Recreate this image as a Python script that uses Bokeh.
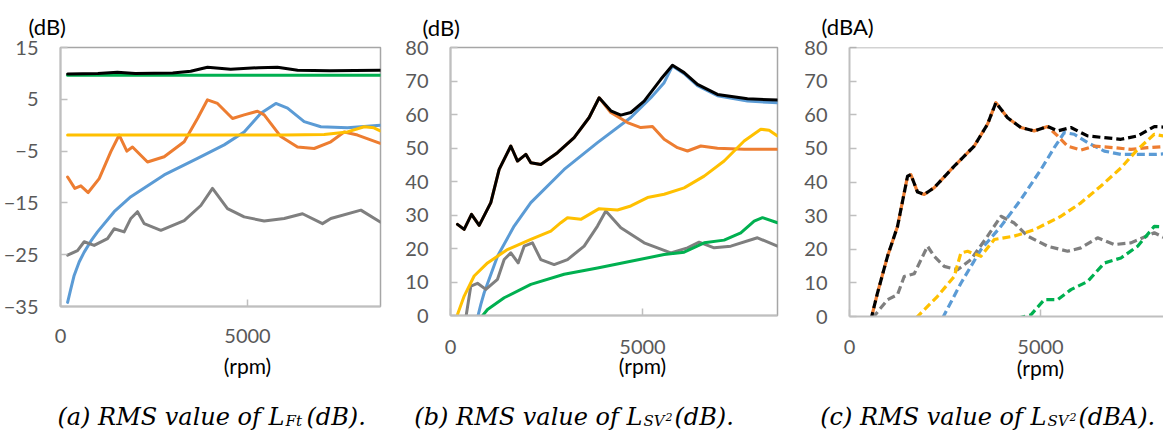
from bokeh.plotting import figure
from bokeh.layouts import row, column
from bokeh.models import Range1d, FixedTicker, Label, Span, Title, LinearAxis
from bokeh.embed import file_html
from bokeh.resources import INLINE

# ---------------- data ----------------
BLACK = "#000000"
GREEN = "#00B050"
ORANGE = "#ED7D31"
BLUE = "#5B9BD5"
YELLOW = "#FFC000"
GRAY = "#7F7F7F"

x_ticks = [0, 5000]
x_tick_labels = ["0", "5000"]
x_unit_label = "(rpm)"
a_y_ticks = [-35, -25, -15, -5, 5, 15]
bc_y_ticks = [0, 10, 20, 30, 40, 50, 60, 70, 80]
a_unit, b_unit, c_unit = "(dB)", "(dB)", "(dBA)"

# (a) RMS value of L_Ft (dB)
a_black_x = [190, 1000, 1520, 2000, 3000, 3480, 3930, 4550, 5300, 5800, 6340, 7200, 8550]
a_black_y = [9.9, 10.0, 10.2, 10.0, 10.1, 10.4, 11.2, 10.8, 11.1, 11.2, 10.6, 10.5, 10.6]
a_green_x = [190, 2000, 4000, 6000, 8550]
a_green_y = [9.65, 9.65, 9.65, 9.65, 9.65]
a_orange_x = [190, 383, 544, 740, 1034, 1346, 1569, 1774, 1925, 2326, 2772, 3307, 3663, 3930,
              4198, 4599, 4911, 5268, 5446, 5891, 6337, 6783, 7228, 7585, 7941, 8550]
a_orange_y = [-10.0, -12.2, -11.7, -13.0, -10.3, -5.1, -1.9, -5.0, -4.2, -7.1, -6.1, -3.2, 1.3, 4.9,
              4.2, 1.3, 2.0, 2.7, 2.0, -2.2, -4.2, -4.5, -3.2, -1.3, -1.9, -3.5]
a_blue_x = [190, 276, 365, 499, 633, 811, 989, 1435, 1881, 2772, 3663, 4376, 4911, 5357, 5758,
            6070, 6515, 6961, 7674, 8550]
a_blue_y = [-34.2, -31.6, -29.0, -26.4, -24.5, -22.4, -20.6, -16.7, -13.8, -9.6, -6.4, -3.8, -1.3,
            2.3, 4.2, 3.3, 0.7, -0.3, -0.5, 0.0]
a_yellow_x = [190, 2000, 4000, 6000, 7050, 7674, 8120, 8380, 8550]
a_yellow_y = [-1.9, -1.9, -1.9, -1.9, -1.8, -1.3, -0.3, -0.5, -1.1]
a_gray_x = [190, 455, 633, 900, 1257, 1435, 1702, 1881, 2059, 2237, 2683, 3307, 3752, 4064, 4465,
            4911, 5446, 5981, 6471, 7005, 7228, 8031, 8550]
a_gray_y = [-25.1, -24.2, -22.5, -23.2, -21.9, -20.0, -20.6, -18.0, -16.7, -19.0, -20.3, -18.4,
            -15.5, -12.2, -16.1, -17.7, -18.5, -18.0, -17.1, -19.0, -18.0, -16.4, -18.7]

# (b) RMS value of L_SV2 (dB)
b_black_x = [182, 356, 547, 747, 1050, 1267, 1571, 1745, 1962, 2092, 2352, 2786, 3220, 3611, 3871,
             4175, 4436, 4696, 5043, 5477, 5781, 6085, 6432, 6953, 7734, 8516]
b_black_y = [27.2, 25.7, 30.2, 26.9, 33.7, 43.6, 50.6, 46.1, 48.1, 45.6, 45.1, 48.6, 53.1, 59.1, 65.0,
             61.1, 59.8, 60.6, 64.0, 70.5, 74.7, 72.5, 69.0, 66.0, 64.7, 64.3]
b_orange_x = [182, 356, 547, 747, 1050, 1267, 1571, 1745, 1962, 2092, 2352, 2786, 3220, 3611, 3871,
              4175, 4609, 4956, 5260, 5564, 5911, 6172, 6519, 6953, 7647, 8516]
b_orange_y = [27.2, 25.7, 30.2, 26.9, 33.7, 43.6, 50.6, 46.1, 48.1, 45.6, 45.1, 48.6, 53.1, 59.1, 65.0,
              60.6, 57.6, 56.1, 56.4, 52.6, 50.1, 49.1, 50.6, 49.9, 49.6, 49.6]
b_blue_x = [703, 790, 877, 1224, 1658, 2092, 2960, 3828, 4696, 5217, 5564, 5781, 6085, 6432, 6953,
            7734, 8516]
b_blue_y = [-0.7, 3.3, 6.8, 17.7, 26.7, 33.7, 43.6, 51.6, 59.1, 65.0, 69.5, 74.5, 72.2, 68.6, 65.6,
            64.0, 63.5]
b_yellow_x = [182, 356, 616, 964, 1484, 2092, 2613, 2873, 3047, 3394, 3871, 4349, 4696, 5130, 5564,
              6085, 6606, 7126, 7647, 8081, 8298, 8516]
b_yellow_y = [0.3, 5.8, 11.8, 15.7, 19.7, 22.7, 25.2, 27.7, 29.2, 28.7, 31.9, 31.5, 32.7, 35.2, 36.2,
              38.1, 41.6, 46.1, 52.1, 55.6, 55.3, 53.6]
b_gray_x = [399, 529, 703, 920, 1224, 1398, 1571, 1762, 1918, 2135, 2352, 2699, 3047, 3481, 3828,
            4045, 4436, 5043, 5738, 6172, 6475, 6866, 7300, 7994, 8516]
b_gray_y = [-0.7, 8.8, 9.6, 7.8, 10.8, 16.7, 18.7, 15.7, 20.7, 21.7, 16.7, 15.2, 16.7, 20.7, 26.7,
            31.2, 26.2, 21.7, 18.7, 20.2, 21.9, 20.2, 20.7, 23.2, 20.7]
b_green_x = [790, 964, 1398, 2092, 2960, 3828, 4696, 5564, 6085, 6606, 7126, 7560, 7908, 8125, 8516]
b_green_y = [-0.7, 1.8, 5.3, 9.3, 12.3, 14.2, 16.2, 18.2, 18.9, 21.7, 22.5, 24.7, 28.2, 29.2, 27.7]

# (c) RMS value of L_SV2 (dBA)
c_black_x = [559, 733, 995, 1257, 1519, 1606, 1781, 1956, 2217, 2741, 3265, 3614, 3832, 4138, 4487,
             4836, 5186, 5448, 5797, 6233, 6670, 7106, 7543, 7979, 8433]
c_black_y = [-1.0, 7.0, 17.9, 26.8, 41.7, 42.2, 37.0, 36.3, 38.3, 44.7, 50.7, 57.2, 63.6, 59.1, 56.2,
             55.2, 56.5, 55.2, 56.2, 53.7, 53.2, 52.7, 53.7, 56.5, 56.2]
c_orange_x = [559, 733, 995, 1257, 1519, 1606, 1781, 1956, 2217, 2741, 3265, 3614, 3832, 4138, 4487,
              4836, 5186, 5448, 5709, 6058, 6408, 6931, 7368, 7805, 8433]
c_orange_y = [-1.0, 7.0, 17.9, 26.8, 41.7, 42.2, 37.0, 36.3, 38.3, 44.7, 50.7, 57.2, 63.6, 59.1, 56.2,
              55.2, 56.5, 53.7, 50.7, 49.5, 50.7, 50.2, 49.7, 50.2, 50.7]
c_blue_x = [2436, 2916, 3440, 3963, 4487, 5011, 5360, 5622, 5884, 6233, 6670, 7106, 7979, 8433]
c_blue_y = [-0.5, 9.9, 19.9, 26.8, 34.8, 43.7, 50.2, 54.7, 54.2, 51.7, 49.2, 48.2, 48.2, 48.5]
c_yellow_x = [1740, 2305, 2741, 2916, 3091, 3440, 3789, 4313, 4836, 5535, 6058, 6582, 7106, 7543,
              7979, 8433]
c_yellow_y = [-0.5, 6.0, 11.9, 18.9, 19.4, 17.9, 22.9, 23.9, 25.8, 29.8, 33.8, 38.8, 44.2, 49.7,
              54.2, 53.2]
c_gray_x = [602, 995, 1257, 1432, 1694, 2043, 2217, 2479, 2829, 3178, 3614, 3963, 4313, 4662, 5186,
            5709, 6058, 6495, 6931, 7368, 7979, 8433]
c_gray_y = [-0.5, 5.0, 6.5, 11.9, 12.7, 20.9, 17.9, 14.9, 13.9, 16.9, 23.9, 29.8, 27.8, 23.9, 20.9,
            19.4, 20.4, 23.4, 21.4, 21.9, 24.9, 22.4]
c_green_x = [4400, 4749, 5098, 5448, 5797, 6233, 6670, 7106, 7543, 7979, 8433]
c_green_y = [-0.5, 0.5, 5.0, 5.0, 8.0, 10.4, 15.9, 17.4, 20.9, 26.8, 26.6]

# captions: (head, subscript, sup, tail)
cap_a = ("(a) RMS value of L", "Ft", "", "(dB).")
cap_b = ("(b) RMS value of L", "SV", "2", "(dB).")
cap_c = ("(c) RMS value of L", "SV", "2", "(dBA).")

# ---------------- styling helpers ----------------
TICK_FONT = "Lato"
CAP_FONT = "DejaVu Serif"
AXIS_COL = "#BFBFBF"
FRAME_COL = "#A6A6A6"
OY = 2          # observed top of the layout in the screenshot
ROW_BOTTOM = 396
STRIP_H = 40


def make_fig(page_left, fl, fw, fr, ft, fh, x_end, y0, y1, y_ticks, s1, s2, unit, unit_off,
             unit_standoff, full_box=True):
    p = figure(frame_width=fw, frame_height=fh,
               x_range=Range1d(0, x_end), y_range=Range1d(y0, y1),
               min_border_left=fl - page_left, min_border_top=ft - OY,
               min_border_bottom=ROW_BOTTOM - (ft + fh), min_border_right=fr,
               output_backend="svg", toolbar_location=None,
               background_fill_color="white", border_fill_color="white")
    p.grid.visible = False
    p.xaxis.ticker = FixedTicker(ticks=x_ticks)
    p.xaxis.major_label_overrides = {t: s for t, s in zip(x_ticks, x_tick_labels)}
    p.yaxis.ticker = FixedTicker(ticks=y_ticks)
    for ax in (p.xaxis[0], p.yaxis[0]):
        ax.axis_line_color = AXIS_COL
        ax.axis_line_width = 2
        ax.major_tick_line_color = AXIS_COL
        ax.major_tick_line_width = 1.5
        ax.major_tick_in = 7
        ax.major_tick_out = 0
        ax.minor_tick_line_color = None
        ax.major_label_text_font = TICK_FONT
        ax.major_label_text_font_size = "20px"
        ax.major_label_text_color = "#595959"
    p.xaxis.major_label_standoff = s1
    p.yaxis.major_label_standoff = 22
    # second "axis" carrying the (rpm) unit label under the 5000 tick
    rpm_ax = LinearAxis(ticker=FixedTicker(ticks=[5000]),
                        major_label_overrides={5000: x_unit_label},
                        axis_line_color=None, major_tick_line_color=None,
                        minor_tick_line_color=None, major_label_standoff=s2,
                        major_label_text_font=TICK_FONT, major_label_text_font_size="21px",
                        major_label_text_color="black")
    p.add_layout(rpm_ax, "below")
    p.add_layout(Title(text=unit, align="left", offset=unit_off, standoff=unit_standoff,
                       text_font=TICK_FONT, text_font_size="22px", text_font_style="normal",
                       text_color="black"), "above")
    if full_box:
        p.outline_line_color = FRAME_COL
        p.outline_line_width = 1.5
    else:
        p.outline_line_color = None
        p.add_layout(Span(location=y1, dimension="width", line_color=FRAME_COL, line_width=1.5))
    return p


def draw(p, xs, ys, color, dashed=False, offset=0):
    if dashed:
        p.line(xs, ys, line_color=color, line_width=3.2, line_dash="8 4",
               line_dash_offset=offset, line_join="round")
    else:
        p.line(xs, ys, line_color=color, line_width=3, line_join="round", line_cap="round")


# ---------------- panel (a) ----------------
pa = make_fig(6, 63, 320, 17, 49, 259, 8556, -35, 15, a_y_ticks, 22, 1, a_unit, -32, 15)
draw(pa, a_blue_x, a_blue_y, BLUE)
draw(pa, a_orange_x, a_orange_y, ORANGE)
draw(pa, a_gray_x, a_gray_y, GRAY)
draw(pa, a_yellow_x, a_yellow_y, YELLOW)
draw(pa, a_green_x, a_green_y, GREEN)
draw(pa, a_black_x, a_black_y, BLACK)

# ---------------- panel (b) ----------------
pb = make_fig(400, 453, 327, 15, 48, 268, 8516, 0, 80, bc_y_ticks, 24, -10, b_unit, -28, 13)
draw(pb, b_blue_x, b_blue_y, BLUE)
draw(pb, b_orange_x, b_orange_y, ORANGE)
draw(pb, b_gray_x, b_gray_y, GRAY)
draw(pb, b_yellow_x, b_yellow_y, YELLOW)
draw(pb, b_green_x, b_green_y, GREEN)
draw(pb, b_black_x, b_black_y, BLACK)

# ---------------- panel (c) ----------------
pc = make_fig(795, 852, 314, 0, 48, 269, 8220, 0, 80, bc_y_ticks, 23, -8, c_unit, -28, 15,
              full_box=False)
draw(pc, c_blue_x, c_blue_y, BLUE, dashed=True)
draw(pc, c_orange_x, c_orange_y, ORANGE, dashed=True, offset=6)
draw(pc, c_gray_x, c_gray_y, GRAY, dashed=True)
draw(pc, c_yellow_x, c_yellow_y, YELLOW, dashed=True)
draw(pc, c_green_x, c_green_y, GREEN, dashed=True)
draw(pc, c_black_x, c_black_y, BLACK, dashed=True)

# ---------------- caption strip ----------------
cap = figure(frame_width=1160, frame_height=STRIP_H,
             x_range=Range1d(6, 1166), y_range=Range1d(ROW_BOTTOM + STRIP_H, ROW_BOTTOM),
             x_axis_type=None, y_axis_type=None, min_border=0,
             output_backend="svg", toolbar_location=None, outline_line_color=None,
             background_fill_color="white", border_fill_color="white")
cap.grid.visible = False


def caption(P, base, parts):
    head, sub, sup, tail = parts
    common = dict(text_font=CAP_FONT, text_font_style="italic", text_baseline="alphabetic",
                  text_color="black")
    cap.add_layout(Label(x=P, y=base, text=head, text_align="right", text_font_size="24px", **common))
    cap.add_layout(Label(x=P + 1, y=base + 4, text=sub, text_align="left", text_font_size="15px", **common))
    w = 10 * len(sub) + (2 if sub == "SV" else 0)
    if sup:
        cap.add_layout(Label(x=P + 1 + w, y=base, text=sup, text_align="left",
                             text_font_size="11px", **common))
        w += 8
    cap.add_layout(Label(x=P + 2 + w, y=base, text=tail, text_align="left", text_font_size="24px", **common))


caption(290, 418, cap_a)
caption(648, 418, cap_b)
caption(1052, 418, cap_c)

layout = column(row(pa, pb, pc, spacing=0), cap, spacing=0)
open("out.html", "w").write(file_html(layout, INLINE))
